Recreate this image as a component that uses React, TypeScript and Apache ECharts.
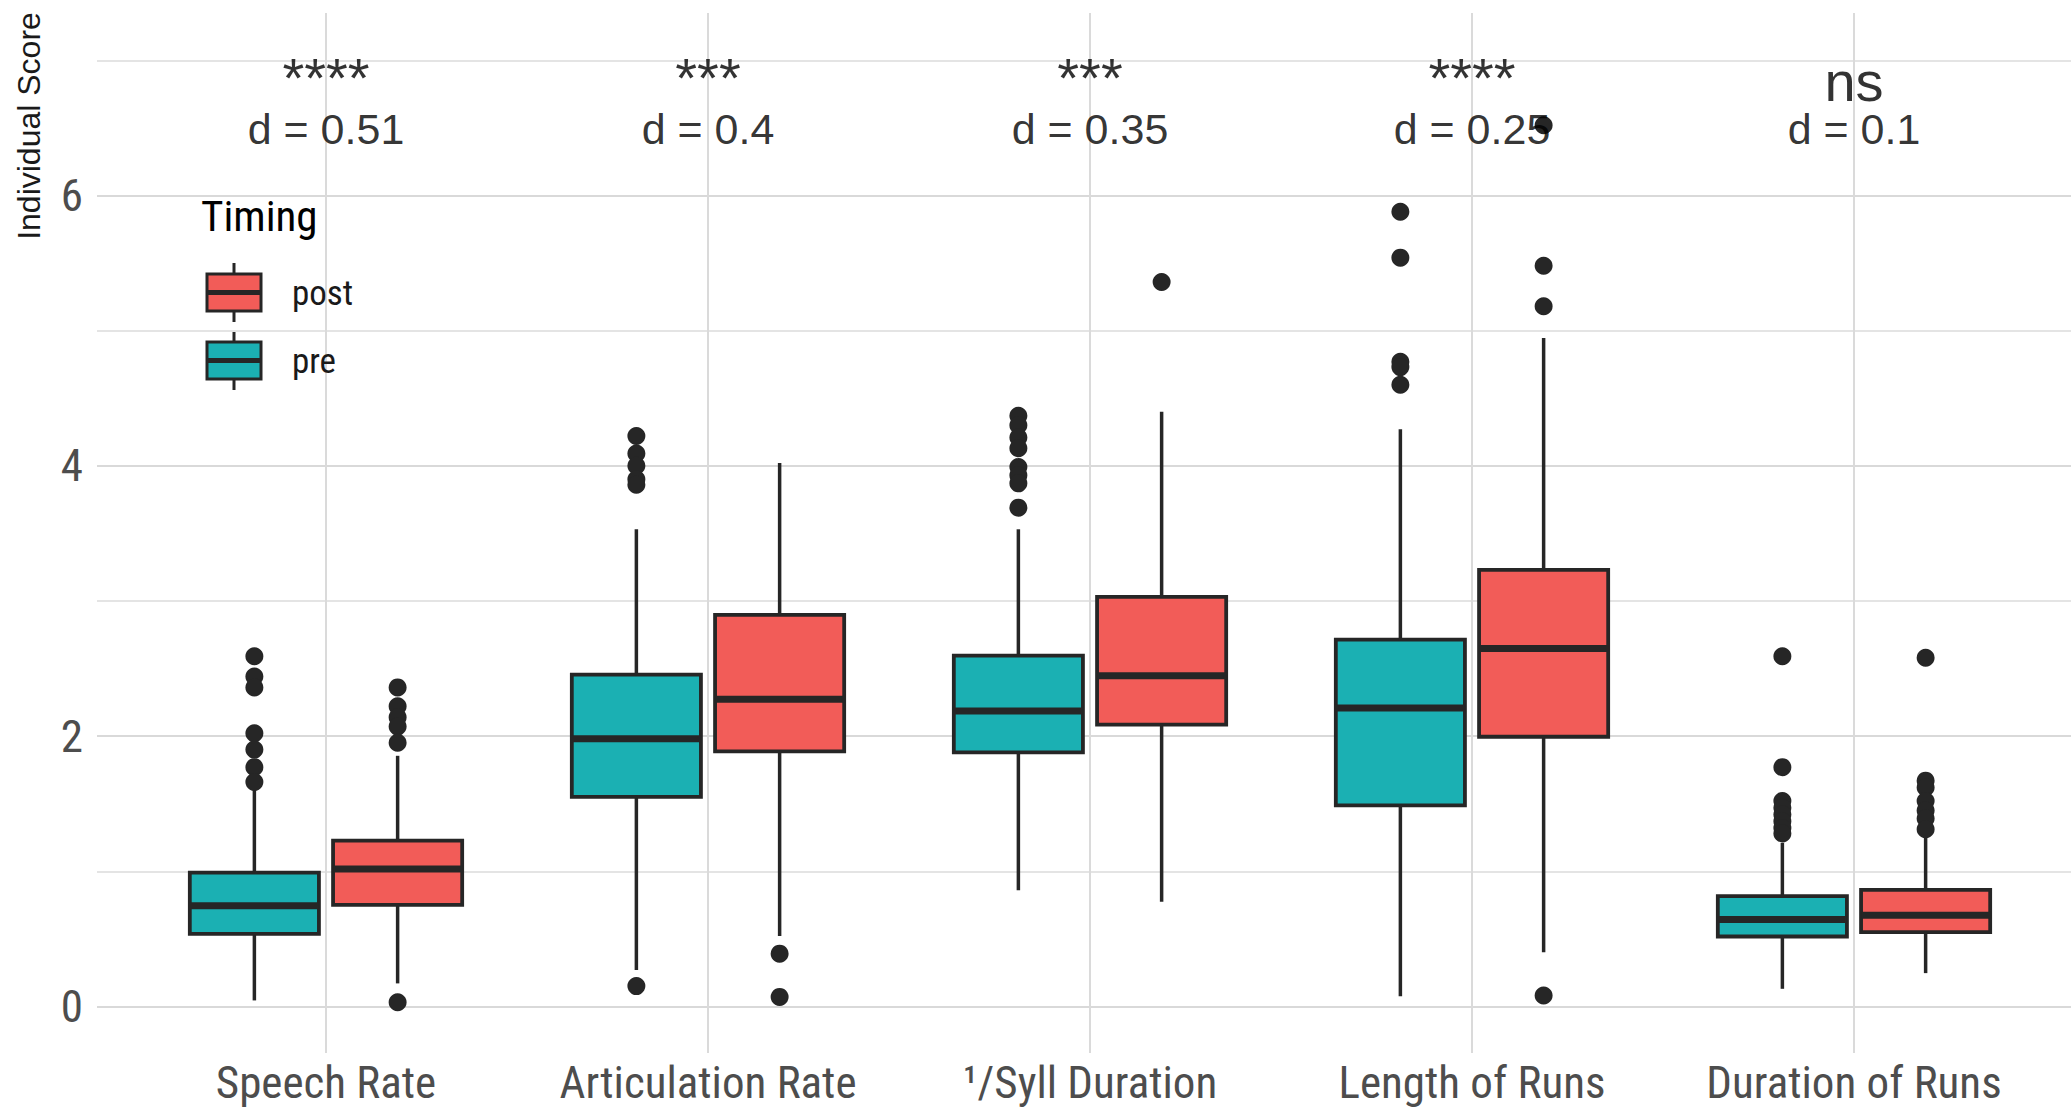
import React, { useEffect, useRef } from 'react';
import * as echarts from 'echarts';

const categories = ['Speech Rate', 'Articulation Rate', '\u00B9/Syll Duration', 'Length of Runs', 'Duration of Runs'];
const timingLevels = ['post', 'pre'];

// [lower whisker, Q1, median, Q3, upper whisker]
const preBoxes = [
  [0.044, 0.537, 0.744, 0.99, 1.6],
  [0.27, 1.55, 1.98, 2.455, 3.53],
  [0.86, 1.88, 2.185, 2.595, 3.53],
  [0.075, 1.487, 2.207, 2.713, 4.27],
  [0.13, 0.517, 0.643, 0.815, 1.21],
];
const postBoxes = [
  [0.17, 0.751, 1.017, 1.226, 1.854],
  [0.52, 1.887, 2.272, 2.897, 4.02],
  [0.775, 2.085, 2.447, 3.03, 4.4],
  [0.4, 1.995, 2.647, 3.23, 4.945],
  [0.246, 0.55, 0.675, 0.862, 1.26],
];
const preOutliers = [
  [2.59, 2.44, 2.36, 2.02, 1.9, 1.77, 1.66],
  [4.22, 4.09, 4.0, 3.9, 3.86, 0.15],
  [4.37, 4.3, 4.21, 4.13, 3.99, 3.93, 3.87, 3.69],
  [5.88, 5.54, 4.77, 4.73, 4.6],
  [2.59, 1.77, 1.52, 1.47, 1.42, 1.37, 1.32, 1.28],
];
const postOutliers = [
  [2.36, 2.22, 2.14, 2.07, 1.95, 0.03],
  [0.39, 0.07],
  [5.36],
  [6.52, 5.48, 5.18, 0.08],
  [2.58, 1.67, 1.62, 1.52, 1.45, 1.39, 1.31],
];
const significance = ['****', '***', '***', '****', 'ns'];
const effectSizes = ['d = 0.51', 'd = 0.4', 'd = 0.35', 'd = 0.25', 'd = 0.1'];
const yTickLabels = [0, 2, 4, 6];
const significanceY = 6.87;
const effectY = 6.49;

const PRE_COLOR = '#1BB0B3';
const POST_COLOR = '#F25C58';
const DARK = '#262626';
const DODGE = 0.1875;
const BOX_HALF = 0.169;

const condensed = "'Roboto Condensed', 'Liberation Sans Narrow', 'DejaVu Sans Condensed', Roboto, sans-serif";
const helv = "'Liberation Sans', Arial, Helvetica, sans-serif";

function makeRender(offset: number, fill: string) {
  return (params: any, api: any) => {
    const i = api.value(0);
    const band = api.size([1, 0])[0];
    const cx = api.coord([i + offset, 0])[0];
    const half = band * BOX_HALF;
    const y = (k: number) => api.coord([i, api.value(k)])[1];
    const yMin = y(1), yQ1 = y(2), yMed = y(3), yQ3 = y(4), yMax = y(5);
    return {
      type: 'group',
      children: [
        { type: 'line', shape: { x1: cx, y1: yQ3, x2: cx, y2: yMax }, style: { stroke: DARK, lineWidth: 3.5 } },
        { type: 'line', shape: { x1: cx, y1: yQ1, x2: cx, y2: yMin }, style: { stroke: DARK, lineWidth: 3.5 } },
        { type: 'rect', shape: { x: cx - half, y: yQ3, width: 2 * half, height: yQ1 - yQ3 }, style: { fill, stroke: DARK, lineWidth: 3.8 } },
        { type: 'line', shape: { x1: cx - half, y1: yMed, x2: cx + half, y2: yMed }, style: { stroke: DARK, lineWidth: 7 } },
      ],
    };
  };
}

function legendKey(yTop: number, fill: string) {
  return {
    type: 'group',
    children: [
      { type: 'line', shape: { x1: 234, y1: yTop - 11, x2: 234, y2: yTop + 48 }, style: { stroke: DARK, lineWidth: 3 } },
      { type: 'rect', shape: { x: 207, y: yTop, width: 54, height: 37 }, style: { fill, stroke: DARK, lineWidth: 3 } },
      { type: 'line', shape: { x1: 207, y1: yTop + 18.5, x2: 261, y2: yTop + 18.5 }, style: { stroke: DARK, lineWidth: 5 } },
    ],
  };
}

function buildOption(): any {
  const preData = preBoxes.map((b, i) => [i, ...b]);
  const postData = postBoxes.map((b, i) => [i, ...b]);
  const outlierData = [
    ...preOutliers.flatMap((arr, i) => arr.map((v) => [i - DODGE, v])),
    ...postOutliers.flatMap((arr, i) => arr.map((v) => [i + DODGE, v])),
  ];
  const sigData = significance.map((s, i) => ({
    name: s,
    value: [i, significanceY],
    label: s === 'ns' ? { offset: [0, 4] } : undefined,
  }));
  const effData = effectSizes.map((s, i) => ({ name: s, value: [i, effectY] }));

  return {
    animation: false,
    backgroundColor: '#ffffff',
    grid: [
      { left: 97, right: -12, top: 60.3, bottom: 100.5 },
      { left: 135, right: 26, top: 13, bottom: 54 },
    ],
    xAxis: [
      { type: 'value', gridIndex: 0, min: 0, max: 1, show: false },
      {
        type: 'category',
        gridIndex: 1,
        data: categories,
        position: 'bottom',
        axisLine: { show: false },
        axisTick: { show: false, alignWithLabel: true },
        axisLabel: { fontSize: 45, color: '#4D4D4D', fontFamily: condensed, margin: 7, interval: 0 },
        splitLine: { show: true, alignWithLabel: true, lineStyle: { color: '#DADADA', width: 2 } },
      },
      { type: 'value', gridIndex: 1, min: -0.5, max: 4.5, show: false, position: 'bottom' },
    ],
    yAxis: [
      {
        type: 'value',
        gridIndex: 0,
        min: 0,
        max: 7,
        interval: 1,
        axisLine: { show: false },
        axisTick: { show: false },
        axisLabel: {
          fontSize: 45,
          color: '#4D4D4D',
          fontFamily: condensed,
          margin: 14,
          formatter: (v: number) => (yTickLabels.includes(v) ? String(v) : ''),
        },
        splitLine: { show: true, lineStyle: { color: ['#D9D9D9', '#E4E4E4'], width: 2 } },
      },
      { type: 'value', gridIndex: 1, min: -0.345, max: 7.35, show: false },
    ],
    series: [
      {
        type: 'custom',
        name: 'pre',
        xAxisIndex: 2,
        yAxisIndex: 1,
        data: preData,
        encode: { x: 0, y: [1, 2, 3, 4, 5] },
        renderItem: makeRender(-DODGE, PRE_COLOR),
        z: 3,
        silent: true,
      },
      {
        type: 'custom',
        name: 'post',
        xAxisIndex: 2,
        yAxisIndex: 1,
        data: postData,
        encode: { x: 0, y: [1, 2, 3, 4, 5] },
        renderItem: makeRender(DODGE, POST_COLOR),
        z: 3,
        silent: true,
      },
      {
        type: 'scatter',
        xAxisIndex: 2,
        yAxisIndex: 1,
        data: outlierData,
        symbolSize: 18,
        itemStyle: { color: DARK, opacity: 1 },
        z: 4,
        silent: true,
      },
      {
        type: 'scatter',
        xAxisIndex: 2,
        yAxisIndex: 1,
        data: sigData,
        symbolSize: 1,
        itemStyle: { color: 'rgba(0,0,0,0)' },
        label: {
          show: true,
          position: 'inside',
          formatter: '{b}',
          fontSize: 56,
          fontFamily: helv,
          color: '#000000',
          align: 'center',
          verticalAlign: 'middle',
        },
        z: 5,
        silent: true,
      },
      {
        type: 'scatter',
        xAxisIndex: 2,
        yAxisIndex: 1,
        data: effData,
        symbolSize: 1,
        itemStyle: { color: 'rgba(0,0,0,0)' },
        label: {
          show: true,
          position: 'inside',
          formatter: '{b}',
          fontSize: 43,
          fontFamily: helv,
          color: '#000000',
          align: 'center',
          verticalAlign: 'middle',
        },
        z: 5,
        silent: true,
      },
    ],
    graphic: [
      {
        type: 'text',
        x: 29,
        y: 126,
        rotation: Math.PI / 2,
        z: 10,
        style: {
          text: 'Individual Score',
          fontSize: 32,
          fontFamily: helv,
          fill: '#1A1A1A',
          align: 'center',
          verticalAlign: 'middle',
        },
      },
      {
        type: 'text',
        x: 201,
        y: 216,
        z: 10,
        style: { text: 'Timing', fontSize: 43, fontFamily: condensed, fill: '#000000', align: 'left', verticalAlign: 'middle' },
      },
      { ...legendKey(274, POST_COLOR), z: 10 },
      { ...legendKey(342, PRE_COLOR), z: 10 },
      {
        type: 'text',
        x: 292,
        y: 293,
        z: 10,
        style: { text: timingLevels[0], fontSize: 35, fontFamily: condensed, fill: '#1A1A1A', align: 'left', verticalAlign: 'middle' },
      },
      {
        type: 'text',
        x: 292,
        y: 361,
        z: 10,
        style: { text: timingLevels[1], fontSize: 35, fontFamily: condensed, fill: '#1A1A1A', align: 'left', verticalAlign: 'middle' },
      },
    ],
  };
}

export default function App() {
  const ref = useRef<HTMLDivElement>(null);
  useEffect(() => {
    document.body.style.margin = '0';
    const chart = echarts.init(ref.current as HTMLDivElement, null, { renderer: 'svg' });
    chart.setOption(buildOption());
    return () => chart.dispose();
  }, []);
  return <div ref={ref} style={{ position: 'fixed', left: 0, top: 0, width: 2071, height: 1107 }} />;
}
